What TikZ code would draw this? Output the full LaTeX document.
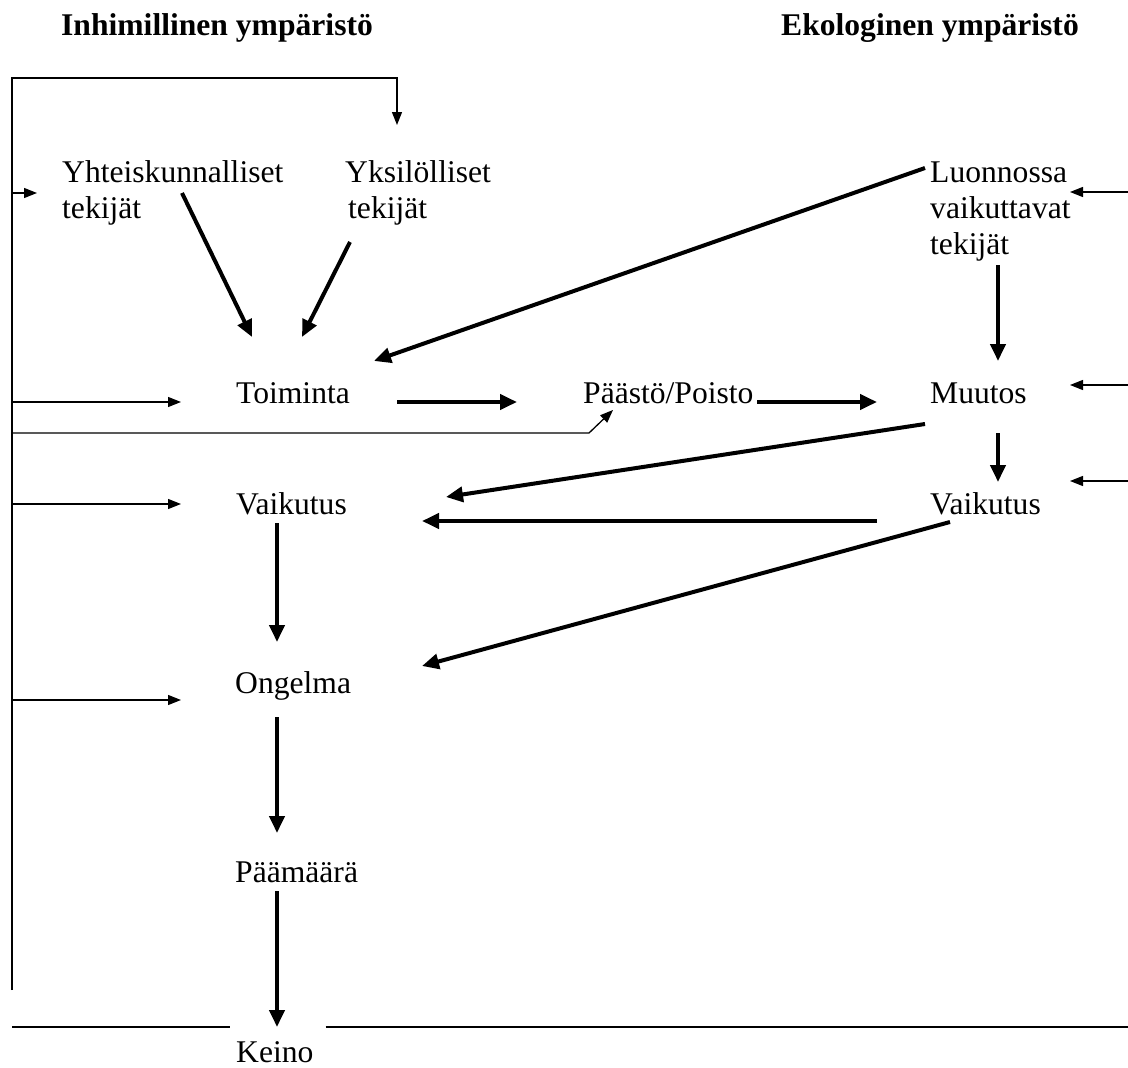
\documentclass[tikz,border=0pt]{standalone}
\usepackage{fontspec}
\setmainfont{Liberation Serif}
\usetikzlibrary{arrows.meta,calc}

\begin{document}
\begin{tikzpicture}[
  x=1pt,y=-1pt,
  txt/.style={inner sep=0pt,anchor=base west,align=left,font=\fontsize{31.6}{36}\selectfont},
  hdr/.style={txt,font=\fontsize{31.6}{36}\selectfont\bfseries},
  thk/.style={-{Triangle[length=17pt,width=15pt]},line width=4pt},
  thn/.style={-{Triangle[length=13pt,width=10pt]},line width=1.3pt},
  ln/.style={line width=1.3pt}
]
  \useasboundingbox (0,0) rectangle (1128,1068);
  \coordinate (ltop) at (12,78);
  \coordinate (lbot) at (12,990);
  \coordinate (redge) at (1128,0);

  \node[hdr] (hum) at (61,35) {Inhimillinen ympäristö};
  \node[hdr] (eko) at (781,35) {Ekologinen ympäristö};
  \node[txt] (yht) at (62,218) {Yhteiskunnalliset\\tekijät};
  \node[txt] (yks) at (345,218) {Yksilölliset\\\hspace*{3pt}tekijät};
  \node[txt] (luon) at (930,254) {Luonnossa\\vaikuttavat\\tekijät};
  \node[txt] (toim) at (236,403) {Toiminta};
  \node[txt] (paasto) at (583,403) {Päästö/Poisto};
  \node[txt] (muutos) at (930,403) {Muutos};
  \node[txt] (vaikL) at (236,514) {Vaikutus};
  \node[txt] (vaikR) at (930,514) {Vaikutus};
  \node[txt] (ongelma) at (235,693) {Ongelma};
  \node[txt] (paamaara) at (235,882) {Päämäärä};
  \node[txt] (keino) at (236,1062) {Keino};

  \draw[thk] ([shift={(120,-25)}]yht.base west) -- ([shift={(16,-66)}]toim.base west);
  \draw[thk] ([shift={(5,24)}]yks.base west) -- ([shift={(66,-66)}]toim.base west);
  \draw[thk] ([shift={(-5,-86)}]luon.base west) -- ([shift={(138,-42)}]toim.base west);
  \draw[thk] ([shift={(161,-1)}]toim.base west) -- ([shift={(-66,-1)}]paasto.base west);
  \draw[thk] ([shift={(174,-1)}]paasto.base west) -- ([shift={(-53,-1)}]muutos.base west);
  \draw[thk] ([shift={(68,11)}]luon.base west) -- ([shift={(68,-42)}]muutos.base west);
  \draw[thk] ([shift={(68,30)}]muutos.base west) -- ([shift={(68,-32)}]vaikR.base west);
  \draw[thk] ([shift={(-5,21)}]muutos.base west) -- ([shift={(210,-17)}]vaikL.base west);
  \draw[thk] ([shift={(-53,7)}]vaikR.base west) -- ([shift={(186,7)}]vaikL.base west);
  \draw[thk] ([shift={(20,8)}]vaikR.base west) -- ([shift={(187,-27)}]ongelma.base west);
  \draw[thk] ([shift={(41,9)}]vaikL.base west) -- ([shift={(42,-51)}]ongelma.base west);
  \draw[thk] ([shift={(42,24)}]ongelma.base west) -- ([shift={(42,-49)}]paamaara.base west);
  \draw[thk] ([shift={(42,9)}]paamaara.base west) -- ([shift={(41,-35)}]keino.base west);

  \draw[thn] (lbot) -- (ltop) -| ([shift={(52,-93)}]yks.base west);
  \draw[thn] ($(ltop |- yht.base west)+(0,-25)$) -- ++(25,0);
  \draw[thn] ($(ltop |- toim.base west)+(0,-1)$) -- ++(169,0);
  \draw[thn] ($(ltop |- toim.base west)+(0,30)$) -- ++(577,0) -- ([shift={(30,7)}]paasto.base west);
  \draw[thn] ($(ltop |- vaikL.base west)+(0,-10)$) -- ++(169,0);
  \draw[thn] ($(ltop |- ongelma.base west)+(0,7)$) -- ++(169,0);

  \draw[thn] ($(redge |- luon.base west)+(0,-62)$) -- ++(-58,0);
  \draw[thn] ($(redge |- muutos.base west)+(0,-18)$) -- ++(-58,0);
  \draw[thn] ($(redge |- vaikR.base west)+(0,-33)$) -- ++(-58,0);

  \draw[ln] ($(ltop |- keino.base west)+(0,-35)$) -- ([shift={(-6,-35)}]keino.base west);
  \draw[ln] ([shift={(12,-35)}]keino.base east) -- ($(redge |- keino.base west)+(0,-35)$);
\end{tikzpicture}
\end{document}
